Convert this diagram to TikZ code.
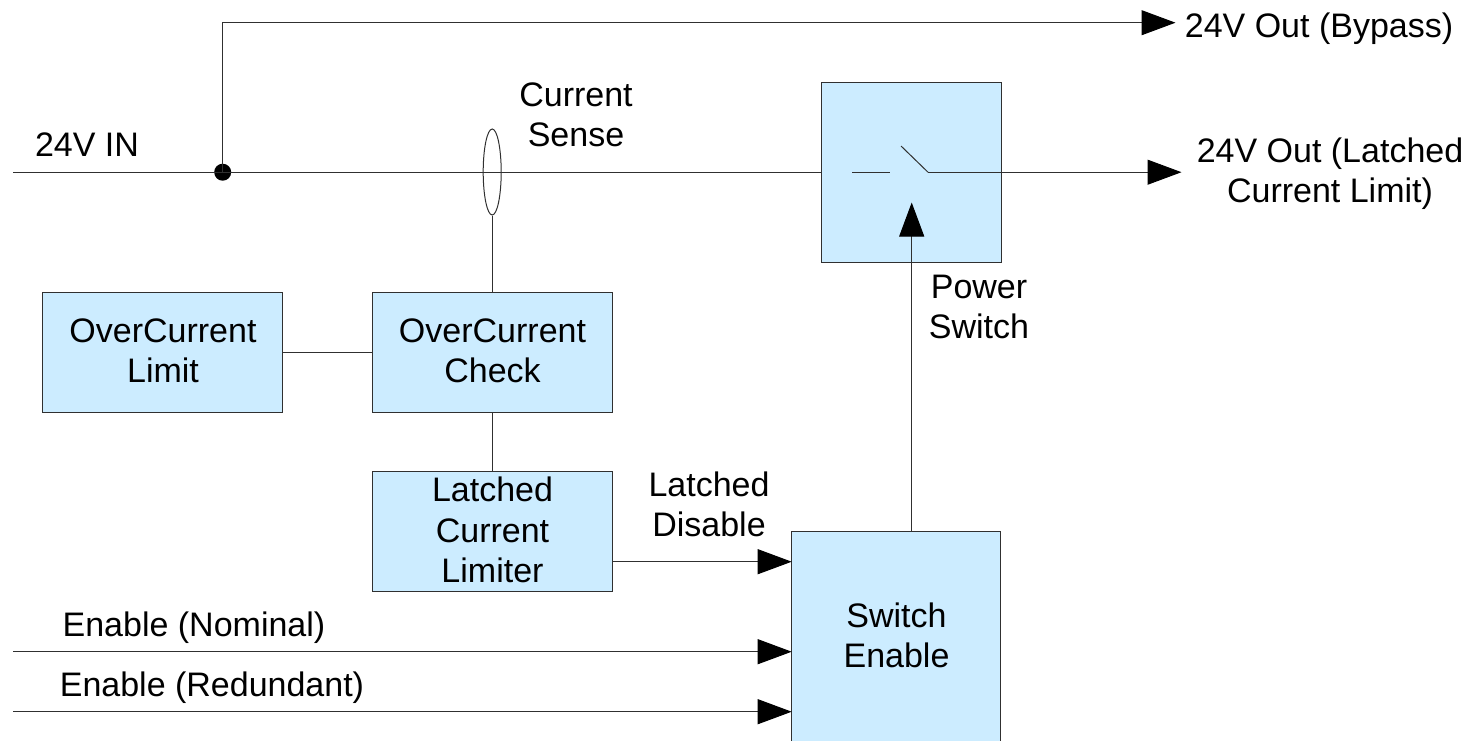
\documentclass[tikz,border=0pt]{standalone}
\usepackage{fontspec}
\setmainfont{Liberation Sans}
\usetikzlibrary{arrows.meta,shapes.geometric,calc}
\definecolor{boxfill}{HTML}{CCECFF}
\definecolor{wire}{HTML}{303030}
\tikzset{
  blockbox/.style={draw=wire,fill=boxfill,line width=1pt,inner sep=0pt,align=center,font=\fontsize{34}{40.3}\selectfont},
  wireline/.style={draw=wire,line width=1pt},
  arrowline/.style={wireline,-{Triangle[length=34pt,width=25pt,color=black]},shorten >=-0.5pt},
  lbl/.style={inner sep=0pt,align=center,font=\fontsize{34}{40.3}\selectfont,text=black},
  dotnode/.style={circle,fill=black,inner sep=0pt,minimum size=17pt},
  sensering/.style={ellipse,draw=wire,line width=1pt,inner sep=0pt,minimum width=18pt,minimum height=86pt}
}
\begin{document}
\begin{tikzpicture}[x=1pt,y=-1pt]
\useasboundingbox (0,0) rectangle (1473,740);
\begin{scope}
\clip (0,0) rectangle (1473,740);
% coordinates
\coordinate (inL) at (13,172.2);
\coordinate (byOut) at (1175,22.7);
\coordinate (swOut) at (1181,172.2);
\coordinate (nomIn) at (13,651.7);
\coordinate (redIn) at (13,711.7);
\coordinate (swL1) at (852,172.2);
\coordinate (swL2) at (890,172.2);
\coordinate (swP) at (928,172.2);
\coordinate (swQ) at (901,146);
\coordinate (pwrTip) at (911.7,203);
% blocks
\node[blockbox,minimum width=180pt,minimum height=180pt] (sw) at (911.7,172.2) {};
\node[blockbox,minimum width=240pt,minimum height=120pt] (ocl) at (162.7,352.2) {};
\node[lbl] (oclt) at (163,351) {OverCurrent\\Limit};
\node[blockbox,minimum width=240pt,minimum height=120pt] (occ) at (492.2,352.2) {};
\node[lbl] (occt) at (492.5,351) {OverCurrent\\Check};
\node[blockbox,minimum width=240pt,minimum height=120pt] (lcl) at (492.2,531.7) {};
\node[lbl] (lclt) at (492.5,530) {Latched\\Current\\Limiter};
\node[blockbox,minimum width=209pt,minimum height=212pt] (se) at (896.2,637.7) {};
\node[lbl] (set) at (896.5,635) {Switch\\Enable};
% junction and sense
\node[dotnode] (jn) at (222.7,172.2) {};
% wires
\draw[wireline] (inL) -- (sw.west);
\draw[arrowline] (jn.center) |- (byOut);
\draw[wireline] (swL1) -- (swL2);
\draw[wireline] (swQ) -- (swP);
\draw[arrowline] (swP) -- (swOut);
\node[sensering] (ring) at (492.2,172) {};
\draw[wireline] (ring.south) -- (occ.north);
\draw[wireline] (ocl.east) -- (occ.west);
\draw[wireline] (occ.south) -- (lcl.north);
\draw[arrowline] (lcl.east |- 0,561.7) coordinate (a) -- (a -| se.west);
\draw[arrowline] (nomIn) -- (nomIn -| se.west);
\draw[arrowline] (redIn) -- (redIn -| se.west);
\draw[arrowline] (se.north -| pwrTip) -- (pwrTip);
% labels
\node[lbl] (l1) at (87,145) {24V IN};
\node[lbl] (l2) at (576,115) {Current\\Sense};
\node[lbl] (l3) at (1319,29) {24V Out (Bypass)};
\node[lbl] (l4) at (1330,174) {24V Out (Latched\\Current Limit)};
\node[lbl] (l5) at (979,307) {Power\\Switch};
\node[lbl] (l6) at (709,504.5) {Latched\\Disable};
\node[lbl] (l7) at (194,627.5) {Enable (Nominal)};
\node[lbl] (l8) at (212,687.5) {Enable (Redundant)};
\end{scope}
\end{tikzpicture}
\end{document}
